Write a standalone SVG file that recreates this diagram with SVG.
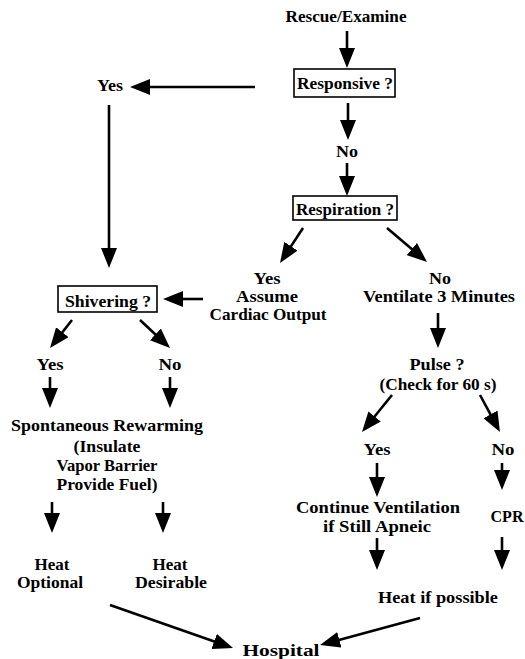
<svg xmlns="http://www.w3.org/2000/svg" width="525" height="659" viewBox="0 0 525 659">
<style>
text{font-family:"Liberation Serif","Times New Roman",serif;font-weight:bold;font-size:16.2px;fill:#000;text-anchor:middle}
.box{fill:none;stroke:#000;stroke-width:1.6}
.c{stroke:#000;stroke-width:2.6;fill:none;marker-end:url(#ah)}
</style>
<defs>
<marker id="ah" markerUnits="userSpaceOnUse" markerWidth="20" markerHeight="16" viewBox="0 0 20 16" refX="10" refY="8" orient="auto">
<path d="M0,0 L20,8 L0,16 Z" fill="#000"/>
</marker>
</defs>
<rect width="525" height="659" fill="#fff"/>
<g id="rescue"><text x="346" y="22" textLength="121" lengthAdjust="spacingAndGlyphs">Rescue/Examine</text></g>
<g id="responsive"><rect class="box" x="294" y="69" width="101" height="28"/><text x="345" y="89" textLength="96" lengthAdjust="spacingAndGlyphs">Responsive ?</text></g>
<g id="yes1"><text x="110" y="91" textLength="26" lengthAdjust="spacingAndGlyphs">Yes</text></g>
<g id="no1"><text x="347" y="157" textLength="22" lengthAdjust="spacingAndGlyphs">No</text></g>
<g id="respiration"><rect class="box" x="293" y="196" width="104" height="24"/><text x="345" y="215" textLength="98" lengthAdjust="spacingAndGlyphs">Respiration ?</text></g>
<g id="shivering"><rect class="box" x="58" y="286" width="99" height="26"/><text x="108" y="307" textLength="86" lengthAdjust="spacingAndGlyphs">Shivering ?</text></g>
<g id="yes2"><text x="267" y="284" textLength="27" lengthAdjust="spacingAndGlyphs">Yes</text><text x="267" y="302" textLength="62" lengthAdjust="spacingAndGlyphs">Assume</text><text x="268" y="320" textLength="117" lengthAdjust="spacingAndGlyphs">Cardiac Output</text></g>
<g id="no2"><text x="440" y="284" textLength="22" lengthAdjust="spacingAndGlyphs">No</text><text x="439" y="302" textLength="152" lengthAdjust="spacingAndGlyphs">Ventilate 3 Minutes</text></g>
<g id="pulse"><text x="437" y="370" textLength="55" lengthAdjust="spacingAndGlyphs">Pulse ?</text><text x="438" y="390" textLength="117" lengthAdjust="spacingAndGlyphs">(Check for 60 s)</text></g>
<g id="yes3"><text x="50" y="370" textLength="27" lengthAdjust="spacingAndGlyphs">Yes</text></g>
<g id="no3"><text x="170" y="370" textLength="23" lengthAdjust="spacingAndGlyphs">No</text></g>
<g id="rewarming"><text x="107" y="431" textLength="192" lengthAdjust="spacingAndGlyphs">Spontaneous Rewarming</text><text x="107" y="452" textLength="67" lengthAdjust="spacingAndGlyphs">(Insulate</text><text x="107" y="471" textLength="101" lengthAdjust="spacingAndGlyphs">Vapor Barrier</text><text x="107" y="490" textLength="101" lengthAdjust="spacingAndGlyphs">Provide Fuel)</text></g>
<g id="yes4"><text x="377" y="455" textLength="27" lengthAdjust="spacingAndGlyphs">Yes</text></g>
<g id="no4"><text x="503" y="455" textLength="23" lengthAdjust="spacingAndGlyphs">No</text></g>
<g id="continue"><text x="378" y="513" textLength="164" lengthAdjust="spacingAndGlyphs">Continue Ventilation</text><text x="377" y="532" textLength="108" lengthAdjust="spacingAndGlyphs">if Still Apneic</text></g>
<g id="cpr"><text x="507" y="522" textLength="33" lengthAdjust="spacingAndGlyphs">CPR</text></g>
<g id="heatopt"><text x="52" y="570" textLength="35" lengthAdjust="spacingAndGlyphs">Heat</text><text x="50" y="588" textLength="66" lengthAdjust="spacingAndGlyphs">Optional</text></g>
<g id="heatdes"><text x="170" y="570" textLength="35" lengthAdjust="spacingAndGlyphs">Heat</text><text x="171" y="588" textLength="72" lengthAdjust="spacingAndGlyphs">Desirable</text></g>
<g id="heatposs"><text x="438" y="603" textLength="120" lengthAdjust="spacingAndGlyphs">Heat if possible</text></g>
<g id="hospital"><text x="281" y="656" textLength="77" lengthAdjust="spacingAndGlyphs">Hospital</text></g>
<g id="connectors">
<path class="c" d="M347,31 L347,58"/>
<path class="c" d="M255,87 L140,87"/>
<path class="c" d="M348,103 L348,130"/>
<path class="c" d="M347,163 L347,186"/>
<path class="c" d="M109,105 L109,258"/>
<path class="c" d="M303,228 L285.5,254.6"/>
<path class="c" d="M387,228 L419.4,255.5"/>
<path class="c" d="M203,299 L173,299"/>
<path class="c" d="M72,320 L56.2,340.1"/>
<path class="c" d="M140,320 L162.7,341.2"/>
<path class="c" d="M438,313 L438,338"/>
<path class="c" d="M50,377 L50,398"/>
<path class="c" d="M170,377 L170,398"/>
<path class="c" d="M392,395 L368.3,424.2"/>
<path class="c" d="M480,395 L495.2,423.2"/>
<path class="c" d="M52,502 L52,523"/>
<path class="c" d="M163,502 L163,523"/>
<path class="c" d="M377,463 L377,487"/>
<path class="c" d="M502,463 L502,480"/>
<path class="c" d="M377,538 L377,560"/>
<path class="c" d="M502,537 L502,560"/>
<path class="c" d="M110,605 L223.6,644.7"/>
<path class="c" d="M420,618 L329.7,642.4"/>
</g>
</svg>
